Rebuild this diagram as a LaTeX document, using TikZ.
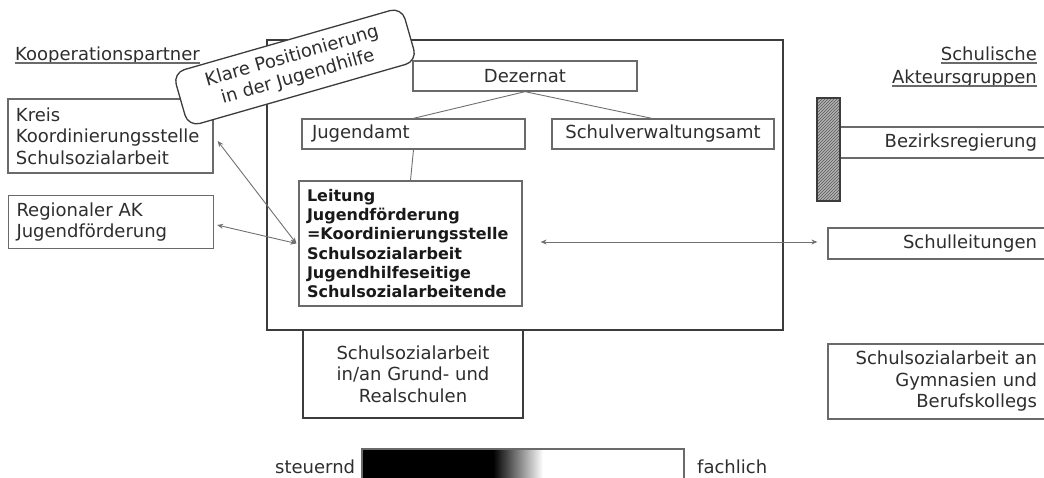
\documentclass[tikz,border=0pt]{standalone}
\usepackage{fontspec}
\setmainfont{DejaVu Sans}
\usetikzlibrary{arrows.meta,patterns,calc}
\definecolor{txt}{HTML}{2E2E2E}
\definecolor{bord}{HTML}{6A6A6A}
\definecolor{dark}{HTML}{3C3C3C}
\definecolor{linec}{HTML}{707070}
\begin{document}
\begin{tikzpicture}[x=1pt,y=-1pt,
  every node/.style={text=txt, font=\fontsize{18}{21.5}\selectfont},
  box/.style={draw=bord, line width=1.3pt, inner sep=0pt, fill=white},
  thickbox/.style={draw=dark, line width=2pt, inner sep=0pt, fill=white},
  conn/.style={draw=linec, line width=0.9pt},
  biarrow/.style={conn, {Stealth[length=6pt,width=5pt]}-{Stealth[length=6pt,width=5pt]}},
  ul/.style={draw=bord, line width=1.1pt},
  lbl/.style={inner sep=0pt},
]
\useasboundingbox (0,0) rectangle (1044,477);

% big container
\node[thickbox, minimum width=516pt, minimum height=290pt] (amt) at (525,185) {};

% left column
\node[lbl, anchor=base west] (kp) at (15,60) {Kooperationspartner};
\draw[ul] ([yshift=-3pt]kp.base west) -- ([yshift=-3pt]kp.base east);

\node[box, minimum width=205pt, minimum height=74pt, text width=189pt, align=left] (kreis) at (110.5,136)
  {Kreis\\Koordinierungsstelle\\Schulsozialarbeit};
\node[box, minimum width=205pt, minimum height=53pt, text width=189pt, align=left] (rak) at (111,222)
  {Regionaler AK\\Jugendförderung};

% inner hierarchy
\node[box, minimum width=224pt, minimum height=30pt, align=center] (dez) at (525,76) {Dezernat};
\node[box, minimum width=223pt, minimum height=30pt, text width=203pt, align=left] (jug) at (413.5,134) {Jugendamt};
\node[box, minimum width=222pt, minimum height=30pt, align=center] (sva) at (663,134) {Schulverwaltungsamt};
\node[box, minimum width=223pt, minimum height=125pt, text width=207pt, align=left,
      font=\fontsize{16}{19.2}\selectfont\bfseries, text=black!90] (lei) at (410.5,243.5)
  {Leitung\\Jugendförderung\\=Koordinierungsstelle\\Schulsozialarbeit\\Jugendhilfeseitige\\Schulsozialarbeitende};

\draw[conn] (dez.south) -- (jug.north);
\draw[conn] (dez.south) -- ($(sva.north west)!0.45!(sva.north east)$);
\draw[conn] (jug.south) -- (lei.north);

% bottom box
\node[thickbox, minimum width=220pt, minimum height=88pt, align=center] (gs) at (413,374)
  {Schulsozialarbeit\\in/an Grund- und\\Realschulen};

% right column
\node[lbl, anchor=base east] (sch) at (1037,60) {Schulische};
\draw[ul] ([yshift=-3pt]sch.base west) -- ([yshift=-3pt]sch.base east);
\node[lbl, anchor=base east] (akt) at (1037,83) {Akteursgruppen};
\draw[ul] ([yshift=-3pt]akt.base west) -- ([yshift=-3pt]akt.base east);

\node[box, minimum width=210pt, minimum height=31pt, text width=184pt, align=right] (bez) at (945,142.5) {Bezirksregierung};
\fill[black!30] (817,98) rectangle (840,201);
\node[draw=dark, line width=1.2pt, inner sep=0pt, minimum width=23pt, minimum height=103pt,
      pattern=north east lines, pattern color=black!65] (hatch) at (828.5,149.5) {};
\node[box, minimum width=222pt, minimum height=31pt, text width=196pt, align=right] (sl) at (939,243.5) {Schulleitungen};
\node[box, minimum width=222pt, minimum height=75pt, text width=196pt, align=right] (gym) at (939,381.5)
  {Schulsozialarbeit an\\Gymnasien und\\Berufskollegs};

% arrows
\draw[biarrow] ([xshift=4pt,yshift=-5pt]kreis.east) -- ([xshift=-2pt]lei.west);
\draw[biarrow] ([xshift=3pt,yshift=-3pt]rak.east) -- ([xshift=-2pt]lei.west);
\draw[biarrow] ([xshift=18pt,yshift=1.5pt]lei.east) -- ([xshift=-10pt,yshift=1.5pt]sl.west);

% callout
\node[draw=dark, line width=1.3pt, fill=white, rounded corners=12pt, rotate=16,
      minimum width=238pt, minimum height=56pt, align=center, inner sep=2pt] (call) at (295,67)
  {Klare Positionierung\\in der Jugendhilfe};

% gradient scale
\fill[black] (362,449) rectangle (493,482);
\shade[left color=black, right color=white] (493,449) rectangle (543,482);
\node[draw=bord, line width=1.2pt, inner sep=0pt, minimum width=322pt, minimum height=33pt] (scale) at (523,465.5) {};
\node[lbl, anchor=base west] (st) at (275,473) {steuernd};
\node[lbl, anchor=base west] (fa) at (697,473) {fachlich};
\end{tikzpicture}
\end{document}
